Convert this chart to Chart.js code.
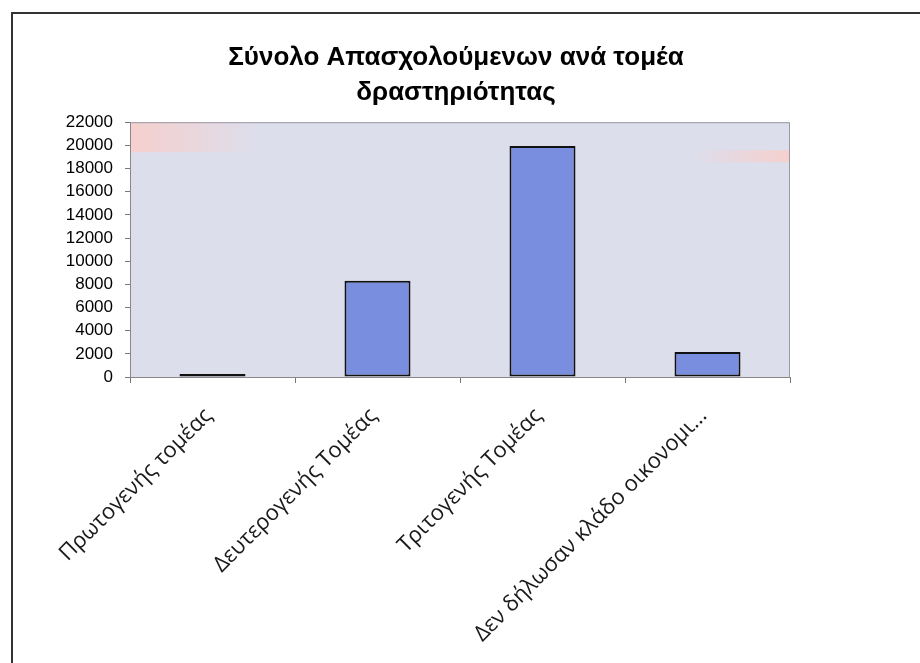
<!DOCTYPE html>
<html>
<head>
<meta charset="utf-8">
<script src="https://cdn.jsdelivr.net/npm/chart.js@4/dist/chart.umd.min.js"></script>
<style>
  body { margin: 0; background: #fff; }
  #wrap { position: relative; width: 920px; height: 663px; overflow: hidden; }
  #frame { position: absolute; left: 11px; top: 12px; width: 1000px; height: 800px; border: 2px solid #333; pointer-events: none; }
  canvas { position: absolute; left: 0; top: 0; }
</style>
</head>
<body>
<div id="wrap">
  <canvas id="myChart" width="920" height="663"></canvas>
  <div id="frame"></div>
</div>
<script>
// Κατηγορίες και τιμές (εκτίμηση από την εικόνα)
const tomeis = ['Πρωτογενής τομέας', 'Δευτερογενής Τομέας', 'Τριτογενής Τομέας', 'Δεν δήλωσαν κλάδο οικονομι...'];
const apasxoloumenoi = [250, 8300, 19950, 2150];
const titlos = ['Σύνολο Απασχολούμενων ανά τομέα', 'δραστηριότητας'];

// φόντο και περίγραμμα περιοχής γραφήματος
const plotBg = {
    id: 'plotBg',
    beforeDraw(chart) {
        const a = chart.chartArea;
        const c = chart.ctx;
        const w = a.right - a.left;
        c.save();
        c.fillStyle = '#dcdeec';
        c.fillRect(a.left, a.top, w, a.bottom - a.top);
        // ροζ λωρίδες όπως στο σκαναρισμένο πρωτότυπο
        let g = c.createLinearGradient(a.left, 0, a.left + w * 0.2, 0);
        g.addColorStop(0, 'rgba(250,205,200,0.85)');
        g.addColorStop(1, 'rgba(250,205,200,0)');
        c.fillStyle = g;
        c.fillRect(a.left, a.top, w * 0.2, 30);
        g = c.createLinearGradient(a.right - w * 0.15, 0, a.right, 0);
        g.addColorStop(0, 'rgba(250,205,200,0)');
        g.addColorStop(1, 'rgba(250,205,200,0.85)');
        c.fillStyle = g;
        c.fillRect(a.right - w * 0.15, a.top + 28, w * 0.15, 12);
        c.strokeStyle = '#9a9aa6';
        c.lineWidth = 1;
        c.strokeRect(a.left + 0.5, a.top + 0.5, w - 1, a.bottom - a.top);
        c.restore();
    }
};

var ctx = document.getElementById('myChart').getContext('2d');

var myChart = new Chart(ctx, {
    type: 'bar',
    data: {
        labels: tomeis,
        datasets: [{
            data: apasxoloumenoi,
            backgroundColor: '#7a8ee0',
            borderColor: '#111',
            borderWidth: 2,
            borderSkipped: false,
            barPercentage: 0.5,
            categoryPercentage: 0.8
        }]
    },
    options: {
        responsive: false,
        animation: false,
        layout: { padding: { left: 0, right: 8, top: 0, bottom: 0 } },
        plugins: {
            legend: { display: false },
            tooltip: { enabled: false },
            title: {
                display: true,
                text: titlos,
                color: '#000',
                font: { family: 'Arial, "Liberation Sans"', size: 26, weight: 'bold', lineHeight: 1.35 },
                padding: { top: 40, bottom: 12 }
            }
        },
        scales: {
            x: {
                afterFit: function (scale) { scale.height = 286; },
                grid: { display: true, drawOnChartArea: false, offset: true, color: '#777', tickLength: 6 },
                border: { color: '#888', width: 1 },
                ticks: {
                    minRotation: 45, maxRotation: 45,
                    autoSkip: false,
                    color: '#1a1a1a',
                    padding: 20,
                    labelOffset: -4,
                    font: { family: '"Open Sans", sans-serif', size: 22 }
                }
            },
            y: {
                min: 0, max: 22000,
                afterFit: function (scale) { scale.width = 130; },
                grid: { display: true, drawOnChartArea: false, color: '#777', tickLength: 5 },
                border: { color: '#888', width: 1 },
                ticks: {
                    stepSize: 2000,
                    autoSkip: false,
                    color: '#000',
                    padding: 12,
                    callback: function (v) { return String(v); },
                    font: { family: 'Arial, "Liberation Sans"', size: 17 }
                }
            },
            yDexia: {
                position: 'right',
                display: true,
                afterFit: function (scale) { scale.width = 122; },
                grid: { display: false },
                border: { display: false },
                ticks: { display: false }
            }
        }
    },
    plugins: [plotBg]
});
</script>
</body>
</html>
